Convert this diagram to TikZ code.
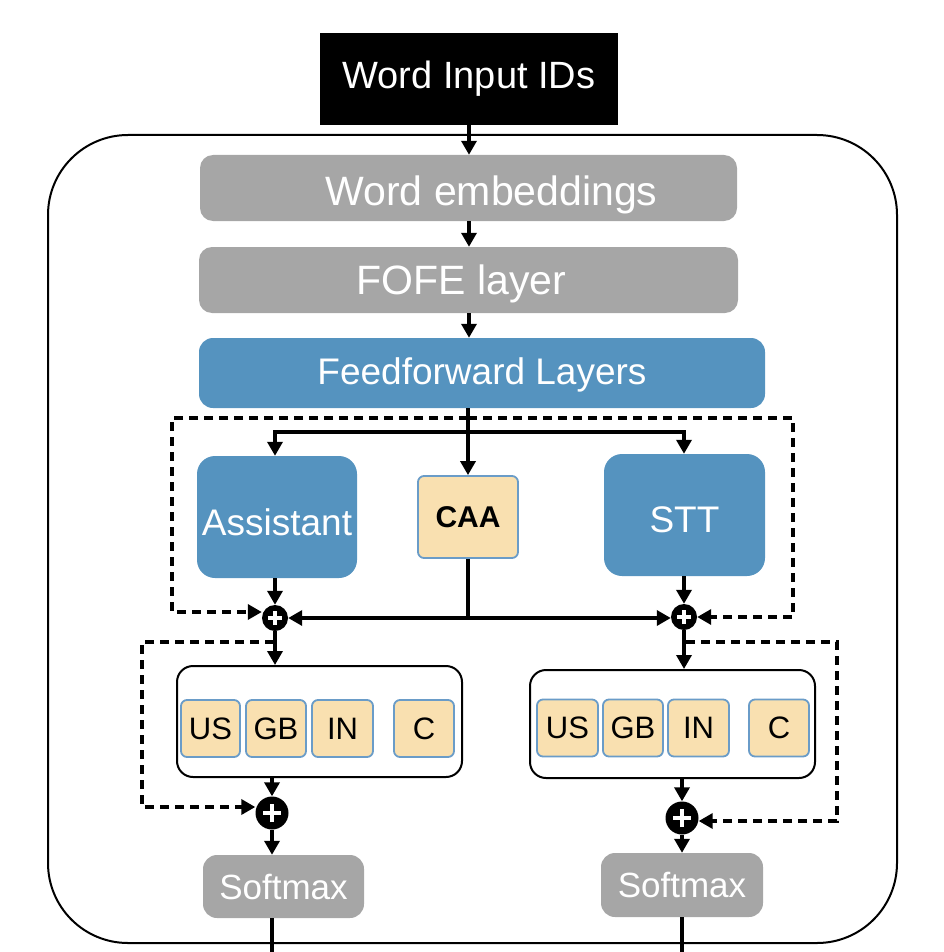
\documentclass[tikz,border=0pt]{standalone}
\usepackage{fontspec}
\setmainfont{Liberation Sans}
\usetikzlibrary{arrows.meta}
\definecolor{boxgray}{HTML}{A6A6A6}
\definecolor{boxblue}{HTML}{5593BF}
\definecolor{boxtan}{HTML}{F9E0B0}
\definecolor{tanedge}{HTML}{6A9CC8}
\tikzset{
  x=1pt,y=-1pt,
  arr/.style={line width=3.4pt,-{Triangle[length=14pt,width=15pt]}},
  ln/.style={line width=3.4pt},
  dsh/.style={line width=3.4pt,dash pattern=on 9pt off 6pt,-{Triangle[length=14pt,width=15pt]}},
  graybox/.style={fill=boxgray,draw=none,rounded corners=13pt,text=white,inner sep=0pt},
  bluebox/.style={fill=boxblue,draw=none,rounded corners=18pt,text=white,inner sep=0pt},
  tanbox/.style={fill=boxtan,draw=tanedge,line width=1.8pt,rounded corners=6pt,inner sep=0pt,text=black},
  pluscirc/.style={circle,fill=black,draw=none,inner sep=0pt},
  grp/.style={draw=black,line width=2pt,rounded corners=16pt,fill=white,inner sep=0pt},
}
\newcommand{\plusmark}[2]{\draw[white,line width=3.4pt] ([xshift=-#2]#1.center) -- ([xshift=#2]#1.center) ([yshift=-#2]#1.center) -- ([yshift=#2]#1.center);}
\newcommand{\dn}[2]{\raisebox{-#1}[\height][\depth]{#2}}
\begin{document}
\begin{tikzpicture}
\useasboundingbox (0,0) rectangle (943,952);
% outer frame
\draw[line width=2pt,rounded corners=80pt] (48,943) -- (48,135) -- (897,135) -- (897,943) -- cycle;
% top
\node[fill=black,text=white,minimum width=298pt,minimum height=92pt,inner sep=0pt,font=\fontsize{38}{40}\selectfont] (wid) at (469,79) {Word Input IDs};
\node[graybox,minimum width=537pt,minimum height=66pt,font=\fontsize{41}{44}\selectfont] (emb) at (468.5,188) {\hspace*{46pt}\dn{7pt}{Word embeddings}};
\node[graybox,minimum width=539pt,minimum height=66pt,font=\fontsize{41}{44}\selectfont] (fofe) at (468.5,280) {\dn{3.5pt}{FOFE layer}\hspace*{14pt}};
\node[bluebox,rounded corners=14pt,minimum width=566pt,minimum height=70pt,font=\fontsize{37}{40}\selectfont] (ff) at (482,373) {\dn{2pt}{Feedforward Layers}};
% middle
\node[bluebox,minimum width=160pt,minimum height=122pt,font=\fontsize{37}{40}\selectfont] (asst) at (277,517) {\dn{5pt}{Assistant}};
\node[tanbox,minimum width=100pt,minimum height=82pt,font=\bfseries\fontsize{30}{32}\selectfont] (caa) at (468,517) {CAA};
\node[bluebox,minimum width=161pt,minimum height=122pt,font=\fontsize{37}{40}\selectfont] (stt) at (684.5,515) {\dn{5pt}{STT}};
\node[pluscirc,minimum size=26pt] (pl) at (275,618) {};
\node[pluscirc,minimum size=26pt] (pr) at (684,617) {};
\plusmark{pl}{7pt}
\plusmark{pr}{7pt}
% groups
\node[grp,minimum width=285pt,minimum height=111pt] (gl) at (319.5,721.5) {};
\node[grp,minimum width=285pt,minimum height=108pt] (gr) at (672.5,724) {};
\tikzset{cbox/.style={tanbox,minimum height=57pt,font=\fontsize{31}{33}\selectfont}}
\node[cbox,minimum width=59pt] (us1) at (210.5,728.5) {US};
\node[cbox,minimum width=60pt] (gb1) at (276,728.5) {GB};
\node[cbox,minimum width=61pt] (in1) at (342.5,728.5) {IN};
\node[cbox,minimum width=60pt] (c1) at (424,728.5) {C};
\node[cbox,minimum width=61pt] (us2) at (567.5,728) {US};
\node[cbox,minimum width=60pt] (gb2) at (633,728) {GB};
\node[cbox,minimum width=61pt] (in2) at (698.5,728) {IN};
\node[cbox,minimum width=60pt] (c2) at (779,728) {C};
\node[pluscirc,minimum size=33pt] (ql) at (272,813) {};
\node[pluscirc,minimum size=33pt] (qr) at (682,818) {};
\plusmark{ql}{9pt}
\plusmark{qr}{9pt}
\node[graybox,rounded corners=14pt,minimum width=161pt,minimum height=63pt,font=\fontsize{35}{38}\selectfont] (sml) at (283.5,886.5) {Softmax};
\node[graybox,rounded corners=14pt,minimum width=162pt,minimum height=64pt,font=\fontsize{35}{38}\selectfont] (smr) at (682,885) {Softmax};
% arrows top chain
\draw[arr] (wid.south) -- (emb.north -| wid.south);
\draw[arr] (emb.south -| wid.south) -- (fofe.north -| wid.south);
\draw[arr] (fofe.south -| wid.south) -- (ff.north -| wid.south);
\coordinate (ffb) at (468,408);
\coordinate (br) at (468,432);
\draw[arr] (ffb) -- (caa.north);
\draw[arr] (br) -| (asst.north -| pl.north);
\draw[arr] (br) -| (stt.north -| pr.north);
% dashed residual top
\coordinate (dtop) at (468,418);
\draw[dsh] (dtop) -| (172,612) -- (pl.west |- 0,612);
\draw[dsh] (dtop) -| (793,617) -- (pr.east);
% into plus
\draw[arr] (asst.south -| pl.north) -- (pl.north);
\draw[arr] (stt.south -| pr.north) -- (pr.north);
\coordinate (cj) at (468,618);
\draw[ln] (caa.south) -- (cj);
\draw[arr] (cj) -- (pl.east);
\draw[arr] (cj) -- (pr.west |- cj);
% to groups
\draw[arr] (pl.south) -- (gl.north -| pl.south);
\draw[arr] (pr.south) -- (gr.north -| pr.south);
\coordinate (dl) at (274,642);
\coordinate (dr) at (686,642);
\draw[dsh] (dl) -| (142,807) -- (ql.west |- 0,807);
\draw[dsh] (dr) -| (837,821) -- (qr.east |- 0,821);
\draw[arr] (gl.south -| ql.north) -- (ql.north);
\draw[arr] (gr.south -| qr.north) -- (qr.north);
\draw[arr] (ql.south) -- (sml.north -| ql.south);
\draw[arr] (qr.south) -- (smr.north -| qr.south);
\coordinate (el) at (272,952);
\coordinate (er) at (682,952);
\draw[ln] (sml.south -| el) -- (el);
\draw[ln] (smr.south -| er) -- (er);
\end{tikzpicture}
\end{document}
